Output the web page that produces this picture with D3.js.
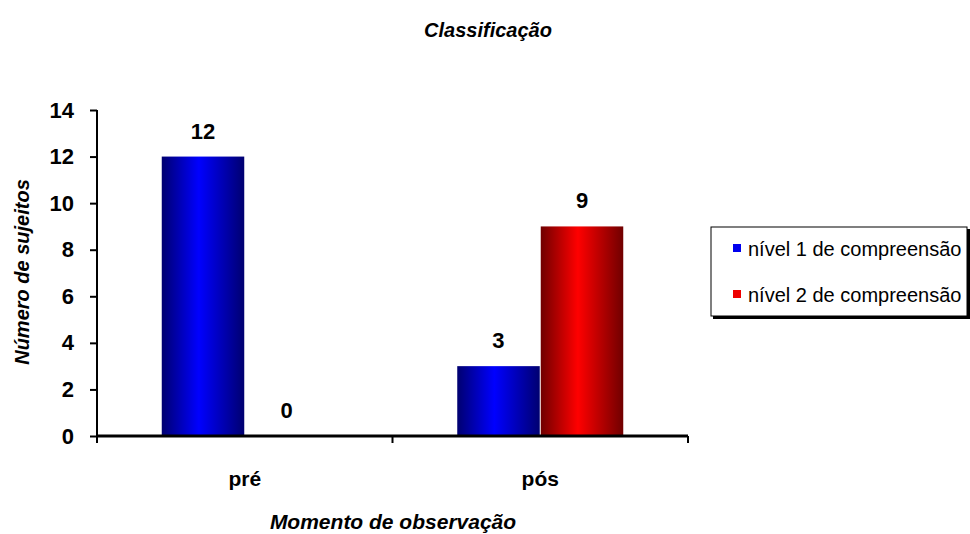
<!DOCTYPE html>
<html>
<head>
<meta charset="utf-8">
<script src="https://cdn.jsdelivr.net/npm/d3@7"></script>
<style>
  body { margin: 0; background: #fff; }
  text { font-family: "Liberation Sans", Arial, sans-serif; }
</style>
</head>
<body>
<div id="chart"></div>
<script>
const categories = ["pré", "pós"];
const seriesNames = ["nível 1 de compreensão", "nível 2 de compreensão"];
const nivel1 = [12, 3];
const nivel2 = [0, 9];
const yTicks = [0, 2, 4, 6, 8, 10, 12, 14];

const width = 970, height = 534;
const margin = {top: 110, left: 97, bottom: 98, right: 282};
const innerW = 688 - margin.left;
const innerH = 436 - margin.top;

const svg = d3.select("#chart")
    .append("svg")
    .attr("width", width)
    .attr("height", height);

const defs = svg.append("defs");
function addGradient(id, dark, bright) {
    const g = defs.append("linearGradient").attr("id", id)
        .attr("x1", "0%").attr("x2", "100%").attr("y1", "0%").attr("y2", "0%");
    g.append("stop").attr("offset", "0%").attr("stop-color", dark);
    g.append("stop").attr("offset", "45%").attr("stop-color", bright);
    g.append("stop").attr("offset", "100%").attr("stop-color", dark);
}
addGradient("gBlue", "#000070", "#0000ff");
addGradient("gRed", "#700000", "#ff0000");
const fills = ["url(#gBlue)", "url(#gRed)"];
const swatch = ["#0000ee", "#ee0000"];

const g = svg.append("g").attr("transform", `translate(${margin.left},${margin.top})`);

const x = d3.scaleBand().domain(categories).range([0, innerW]);
const xs = d3.scaleBand().domain([0, 1]).range([0, 166]).paddingInner(0.012);
const y = d3.scaleLinear().domain([0, 14]).range([innerH, 0]);

const data = categories.map((c, i) => ({cat: c, vals: [nivel1[i], nivel2[i]]}));

const groups = g.selectAll(".grp").data(data).enter().append("g")
    .attr("transform", d => `translate(${x(d.cat) + (x.bandwidth() - 166) / 2},0)`);

groups.selectAll("rect").data(d => d.vals.map((v, k) => ({v, k}))).enter().append("rect")
    .attr("x", d => xs(d.k))
    .attr("width", xs.bandwidth())
    .attr("y", d => y(d.v))
    .attr("height", d => innerH - y(d.v))
    .attr("fill", d => fills[d.k]);

groups.selectAll(".lbl").data(d => d.vals.map((v, k) => ({v, k}))).enter().append("text")
    .attr("x", d => xs(d.k) + xs.bandwidth() / 2)
    .attr("y", d => y(d.v) - 18)
    .attr("text-anchor", "middle")
    .attr("font-size", 22)
    .attr("font-weight", "bold")
    .text(d => d.v);

// y axis
const yAxis = g.append("g").call(d3.axisLeft(y).tickValues(yTicks).tickSize(7).tickPadding(16));
yAxis.select(".domain").attr("stroke", "#000").attr("stroke-width", 2).attr("d", `M0,0V${innerH}`);
yAxis.selectAll(".tick line").attr("stroke-width", 2);
yAxis.selectAll("text").attr("font-size", 22).attr("font-weight", "bold")
    .attr("font-family", "Liberation Sans, Arial, sans-serif");

// x axis
const xAxisG = g.append("g").attr("transform", `translate(0,${innerH})`);
xAxisG.append("line").attr("x1", 0).attr("x2", innerW).attr("stroke", "#000").attr("stroke-width", 3);
xAxisG.selectAll(".xt").data([0, innerW / 2, innerW]).enter().append("line")
    .attr("x1", d => d).attr("x2", d => d).attr("y1", 0).attr("y2", 7)
    .attr("stroke", "#000").attr("stroke-width", 2);
xAxisG.selectAll(".xl").data(categories).enter().append("text")
    .attr("x", d => x(d) + x.bandwidth() / 2)
    .attr("y", 50)
    .attr("text-anchor", "middle")
    .attr("font-size", 21)
    .attr("font-weight", "bold")
    .text(d => d);

// titles
svg.append("text").attr("x", 488).attr("y", 37).attr("text-anchor", "middle")
    .attr("font-size", 20).attr("font-weight", "bold").attr("font-style", "italic")
    .text("Classificação");
svg.append("text").attr("x", 393).attr("y", 529).attr("text-anchor", "middle")
    .attr("font-size", 21).attr("font-weight", "bold").attr("font-style", "italic")
    .text("Momento de observação");
svg.append("text").attr("transform", "translate(29,272) rotate(-90)").attr("text-anchor", "middle")
    .attr("font-size", 20).attr("font-weight", "bold").attr("font-style", "italic")
    .text("Número de sujeitos");

// legend
const leg = svg.append("g").attr("transform", "translate(711,227)");
leg.append("rect").attr("x", 2).attr("y", 2).attr("width", 257).attr("height", 90).attr("fill", "#000");
leg.append("rect").attr("width", 256).attr("height", 89).attr("fill", "#fff").attr("stroke", "#000").attr("stroke-width", 1);
seriesNames.forEach((s, i) => {
    leg.append("rect").attr("x", 22).attr("y", 17 + i * 46).attr("width", 8).attr("height", 8).attr("fill", swatch[i]);
    leg.append("text").attr("x", 37).attr("y", 29 + i * 46).attr("font-size", 20).text(s);
});
</script>
</body>
</html>
